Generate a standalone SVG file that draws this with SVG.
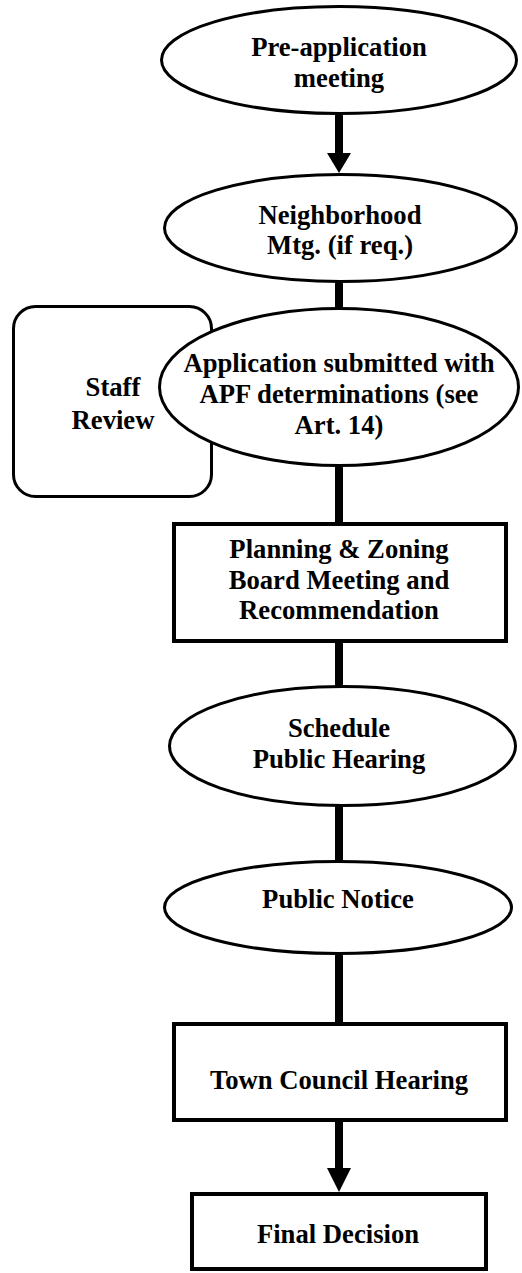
<svg xmlns="http://www.w3.org/2000/svg" width="522" height="1273" viewBox="0 0 522 1273">
<style>
.n{fill:#fff;stroke:#000;stroke-width:3}
.b{fill:#fff;stroke:#000;stroke-width:4}
.t{font-family:"Liberation Serif","Times New Roman",serif;font-weight:bold;font-size:26.67px;fill:#000;text-anchor:middle}
.c{stroke:#000;stroke-width:8;fill:none}
</style>
<rect width="522" height="1273" fill="#fff"/>
<g id="connectors">
<line class="c" x1="339" y1="112" x2="339" y2="155"/>
<polygon points="327,153 351,153 339,173" fill="#000"/>
<line class="c" x1="339" y1="280" x2="339" y2="310"/>
<line class="c" x1="339" y1="464" x2="339" y2="525"/>
<line class="c" x1="339" y1="640" x2="339" y2="688"/>
<line class="c" x1="339" y1="804" x2="339" y2="863"/>
<line class="c" x1="339" y1="952" x2="339" y2="1025"/>
<line class="c" x1="339" y1="1119" x2="339" y2="1170"/>
<polygon points="327,1168 351,1168 339,1192" fill="#000"/>
</g>
<g id="staff-review">
<rect class="n" x="13.5" y="306.5" width="198" height="190" rx="22" ry="22"/>
<text class="t" x="113" y="396">Staff</text>
<text class="t" x="113" y="429">Review</text>
</g>
<g id="pre-application">
<ellipse class="n" cx="339" cy="60" rx="177.5" ry="53.5"/>
<text class="t" x="339" y="56">Pre-application</text>
<text class="t" x="339" y="87">meeting</text>
</g>
<g id="neighborhood">
<ellipse class="n" cx="340.5" cy="228" rx="176" ry="53.5"/>
<text class="t" x="340" y="224">Neighborhood</text>
<text class="t" x="340" y="254">Mtg. (if req.)</text>
</g>
<g id="application">
<ellipse class="n" cx="339" cy="387" rx="179.5" ry="78.5"/>
<text class="t" x="339" y="372">Application submitted with</text>
<text class="t" x="339" y="403">APF determinations (see</text>
<text class="t" x="339" y="434">Art. 14)</text>
</g>
<g id="planning">
<rect class="b" x="174" y="524" width="332" height="117"/>
<text class="t" x="339" y="558">Planning &amp; Zoning</text>
<text class="t" x="339" y="589">Board Meeting and</text>
<text class="t" x="339" y="619">Recommendation</text>
</g>
<g id="schedule">
<ellipse class="n" cx="342.5" cy="746" rx="173" ry="59.5"/>
<text class="t" x="339" y="737">Schedule</text>
<text class="t" x="339" y="768">Public Hearing</text>
</g>
<g id="public-notice">
<ellipse class="n" cx="338" cy="907.5" rx="173.5" ry="46"/>
<text class="t" x="338" y="908">Public Notice</text>
</g>
<g id="town-council">
<rect class="b" x="174" y="1024" width="332" height="96"/>
<text class="t" x="339" y="1089">Town Council Hearing</text>
</g>
<g id="final-decision">
<rect class="b" x="192" y="1194" width="294" height="75"/>
<text class="t" x="338" y="1243">Final Decision</text>
</g>
</svg>
